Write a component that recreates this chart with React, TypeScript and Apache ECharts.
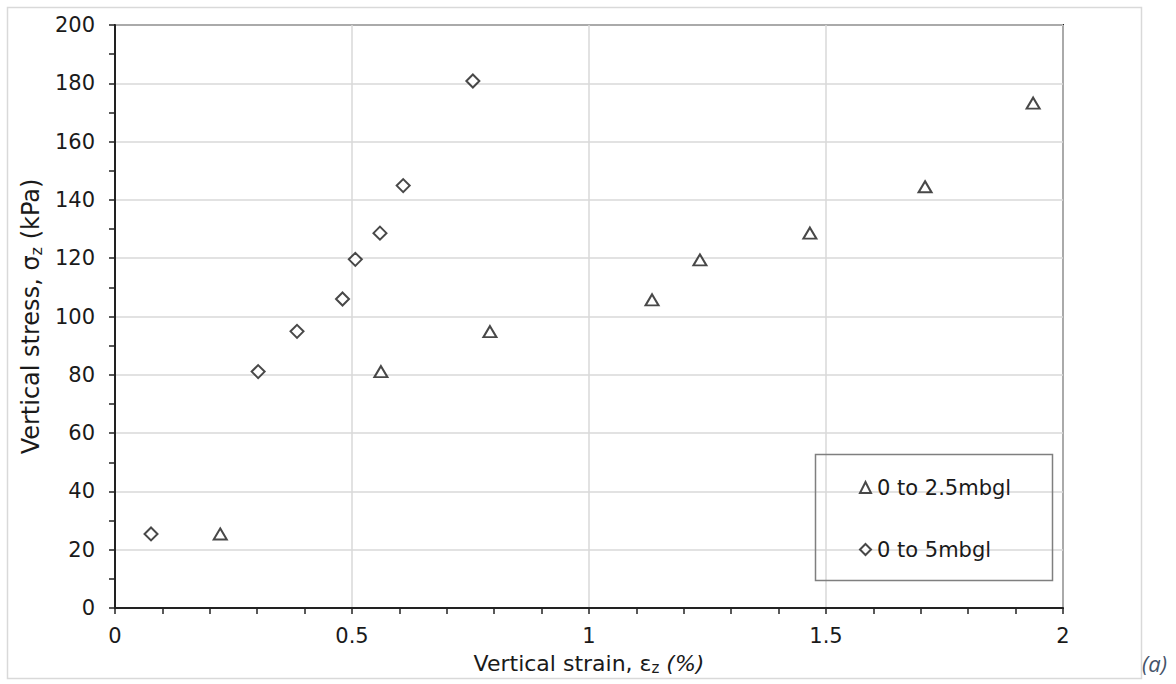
import React, { useEffect, useRef } from "react";
import * as echarts from "echarts";

const seriesNames = ["0 to 2.5mbgl", "0 to 5mbgl"];
const shallowStrain = [0.222, 0.561, 0.791, 1.133, 1.234, 1.466, 1.709, 1.937];
const shallowStress = [25.4, 81.1, 94.8, 105.7, 119.4, 128.6, 144.5, 173.2];
const deepStrain = [0.076, 0.302, 0.384, 0.48, 0.507, 0.559, 0.608, 0.755];
const deepStress = [25.4, 81.1, 94.9, 106.0, 119.6, 128.6, 144.9, 180.8];
const xTicks = [0, 0.5, 1, 1.5, 2];
const yTicks = [0, 20, 40, 60, 80, 100, 120, 140, 160, 180, 200];

const FONT = "'DejaVu Sans', 'Liberation Sans', Arial, sans-serif";
const TXT = "#1a1a1a";

export default function App() {
  const ref = useRef<HTMLDivElement>(null);
  useEffect(() => {
    if (!ref.current) return;
    const chart = echarts.init(ref.current, null, { renderer: "svg" });
    const pair = (xs: number[], ys: number[]) => xs.map((x, i) => [x, ys[i]]);
    chart.setOption({
      animation: false,
      backgroundColor: "#ffffff",
      textStyle: { fontFamily: FONT },
      grid: {
        left: 115,
        right: 113,
        top: 25,
        bottom: 76,
        show: true,
        borderColor: "#222",
        borderWidth: 2,
        backgroundColor: "transparent",
      },
      xAxis: {
        type: "value",
        min: xTicks[0],
        max: xTicks[xTicks.length - 1],
        interval: 0.5,
        name: "{a|Vertical strain, ε}{s|z}{i| (%)}",
        nameLocation: "middle",
        nameGap: 39,
        nameTextStyle: {
          rich: {
            a: { fontSize: 22, fontFamily: FONT, color: TXT, lineHeight: 26 },
            s: { fontSize: 15, fontFamily: FONT, color: TXT, lineHeight: 26, padding: [10, 0, 0, 0] },
            i: { fontSize: 22, fontFamily: FONT, color: TXT, lineHeight: 26, fontStyle: "italic" },
          },
        },
        axisLine: { show: true, lineStyle: { color: "#222", width: 2 } },
        axisTick: { show: true, length: 6, lineStyle: { color: "#222", width: 1.5 } },
        minorTick: { show: true, splitNumber: 5, length: 6, lineStyle: { color: "#222", width: 1.5 } },
        axisLabel: {
          fontSize: 21,
          fontFamily: FONT,
          color: TXT,
          margin: 17,
          formatter: (v: number) => String(v),
        },
        splitLine: { show: true, lineStyle: { color: "#d9d9d9", width: 1.5 } },
      },
      yAxis: {
        type: "value",
        min: yTicks[0],
        max: yTicks[yTicks.length - 1],
        interval: 20,
        name: "{a|Vertical stress, σ}{s|z}{a| (kPa)}",
        nameLocation: "middle",
        nameGap: 56,
        nameRotate: 90,
        nameTextStyle: {
          rich: {
            a: { fontSize: 24, fontFamily: FONT, color: TXT, lineHeight: 28 },
            s: { fontSize: 16, fontFamily: FONT, color: TXT, lineHeight: 28, padding: [11, 0, 0, 0] },
          },
        },
        axisLine: { show: true, lineStyle: { color: "#222", width: 2 } },
        axisTick: { show: true, length: 6, lineStyle: { color: "#222", width: 1.5 } },
        minorTick: { show: true, splitNumber: 2, length: 6, lineStyle: { color: "#222", width: 1.5 } },
        axisLabel: { fontSize: 21, fontFamily: FONT, color: TXT, margin: 20 },
        splitLine: { show: true, lineStyle: { color: "#d9d9d9", width: 1.5 } },
      },
      legend: {
        orient: "vertical",
        left: 859,
        top: 477,
        itemWidth: 11,
        itemHeight: 11,
        itemGap: 41,
        padding: 0,
        textStyle: { fontSize: 21, color: TXT, fontFamily: FONT, lineHeight: 20, padding: [0, 0, 0, 1] },
        data: seriesNames,
      },
      series: [
        {
          name: seriesNames[0],
          type: "scatter",
          symbol: "triangle",
          symbolSize: [13, 11],
          itemStyle: { color: "#ffffff", borderColor: "#1a1a1a", borderWidth: 2 },
          data: pair(shallowStrain, shallowStress),
        },
        {
          name: seriesNames[1],
          type: "scatter",
          symbol: "diamond",
          symbolSize: [13, 13],
          itemStyle: { color: "#ffffff", borderColor: "#1a1a1a", borderWidth: 2 },
          data: pair(deepStrain, deepStress),
        },
      ],
      graphic: [
        {
          type: "rect",
          z: -1,
          shape: { x: 7.5, y: 7.5, width: 1134, height: 671 },
          style: { fill: "none", stroke: "#d9d9d9", lineWidth: 1.5 },
        },
        {
          type: "rect",
          z: 5,
          shape: { x: 815.5, y: 454.5, width: 237, height: 126 },
          style: { fill: "none", stroke: "#7f7f7f", lineWidth: 1.5 },
        },
        {
          type: "text",
          left: 1142,
          top: 652,
          style: {
            text: "(a)",
            fontSize: 22,
            fontStyle: "italic",
            fontFamily: "'Open Sans', 'Noto Sans', sans-serif",
            fill: "#44546a",
          },
        },
      ],
    });
    return () => chart.dispose();
  }, []);
  return (
    <div
      ref={ref}
      style={{ position: "fixed", left: 0, top: 0, width: 1176, height: 684, background: "#fff" }}
    />
  );
}
